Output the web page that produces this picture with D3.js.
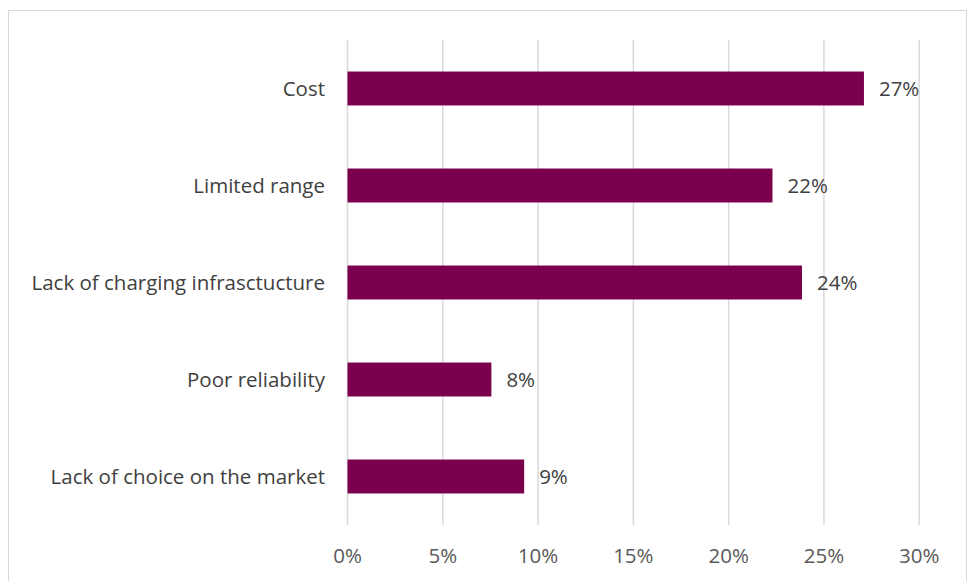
<!DOCTYPE html>
<html>
  <head>
    <meta charset="utf-8">
    <script src="https://d3js.org/d3.v7.min.js"></script>
    <style>
      body { margin: 0; background: #fff; }
      text { font-family: "Open Sans", sans-serif; }
    </style>
  </head>
  <body>
  </body>
</html>

<script>
  var width = 969
  var height = 581

  // data
  var categories = ["Cost", "Limited range", "Lack of charging infrasctucture", "Poor reliability", "Lack of choice on the market"]
  var values = [27.1, 22.3, 23.85, 7.55, 9.27]
  var labels = ["27%", "22%", "24%", "8%", "9%"]
  var ticks = [0, 5, 10, 15, 20, 25, 30]

  var margin = { left: 347.5, right: 50, top: 40, bottom: 56 }

  var svg = d3.select("body")
              .append("svg")
              .attr("width", width)
              .attr("height", height)

  // chart frame
  svg.append("rect")
     .attr("x", 8.5)
     .attr("y", 10.5)
     .attr("width", 958)
     .attr("height", 580)
     .attr("fill", "none")
     .attr("stroke", "#d9d9d9")
     .attr("stroke-width", 1)

  var x = d3.scaleLinear()
            .domain([0, 30])
            .range([margin.left, 919.2])

  var y = d3.scaleBand()
            .domain(categories)
            .range([margin.top, height - margin.bottom])
            .paddingInner(0.65)
            .paddingOuter(0.325)

  // vertical gridlines
  svg.selectAll(".grid")
     .data(ticks)
     .enter()
     .append("line")
     .attr("class", "grid")
     .attr("x1", function(d) { return x(d) })
     .attr("x2", function(d) { return x(d) })
     .attr("y1", margin.top)
     .attr("y2", height - margin.bottom)
     .attr("stroke", "#d9d9d9")
     .attr("stroke-width", 1.5)

  // x tick labels
  svg.selectAll(".tick-label")
     .data(ticks)
     .enter()
     .append("text")
     .attr("class", "tick-label")
     .attr("x", function(d) { return x(d) })
     .attr("y", 563)
     .attr("text-anchor", "middle")
     .attr("fill", "#595959")
     .style("font-size", "20.5px")
     .text(function(d) { return d + "%" })

  // bars
  svg.selectAll(".bar")
     .data(values)
     .enter()
     .append("rect")
     .attr("class", "bar")
     .attr("x", x(0))
     .attr("y", function(d, i) { return y(categories[i]) })
     .attr("width", function(d) { return x(d) - x(0) })
     .attr("height", y.bandwidth())
     .attr("fill", "#7a004e")

  // value labels
  svg.selectAll(".val")
     .data(values)
     .enter()
     .append("text")
     .attr("class", "val")
     .attr("x", function(d) { return x(d) + 15 })
     .attr("y", function(d, i) { return y(categories[i]) + y.bandwidth() / 2 })
     .attr("dy", "0.37em")
     .attr("fill", "#404040")
     .style("font-size", "20.5px")
     .text(function(d, i) { return labels[i] })

  // category labels
  svg.selectAll(".cat")
     .data(categories)
     .enter()
     .append("text")
     .attr("class", "cat")
     .attr("x", 325)
     .attr("y", function(d) { return y(d) + y.bandwidth() / 2 })
     .attr("dy", "0.37em")
     .attr("text-anchor", "end")
     .attr("fill", "#404040")
     .style("font-size", "20.5px")
     .text(function(d) { return d })
</script>
